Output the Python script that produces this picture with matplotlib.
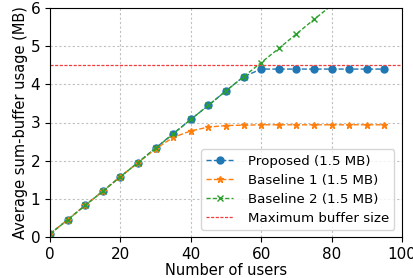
import matplotlib
matplotlib.use("Agg")
import matplotlib.pyplot as plt

users = [0, 5, 10, 15, 20, 25, 30, 35, 40, 45, 50, 55, 60, 65, 70, 75, 80, 85, 90, 95]
proposed = [0.08, 0.45, 0.83, 1.20, 1.58, 1.95, 2.33, 2.71, 3.08, 3.45, 3.83, 4.20, 4.40, 4.40, 4.40, 4.40, 4.40, 4.40, 4.40, 4.40]
baseline1 = [0.08, 0.45, 0.83, 1.20, 1.58, 1.95, 2.31, 2.61, 2.78, 2.88, 2.92, 2.93, 2.94, 2.94, 2.94, 2.94, 2.94, 2.94, 2.94, 2.94]
baseline2 = [0.08, 0.45, 0.83, 1.20, 1.58, 1.95, 2.33, 2.70, 3.08, 3.45, 3.83, 4.20, 4.57, 4.94, 5.32, 5.70, 6.07, 6.44, 6.82, 7.19]
max_buffer = 4.5

fig = plt.figure(figsize=(4.14, 2.78), dpi=100)
ax = fig.add_axes([50/414, 1-237/278, 352/414, 229/278])

ax.plot(users, proposed, '--o', color='#1f77b4', markersize=5, linewidth=1, label='Proposed (1.5 MB)')
ax.plot(users, baseline1, '--*', color='#ff7f0e', markersize=5, linewidth=1, label='Baseline 1 (1.5 MB)')
ax.plot(users, baseline2, '--x', color='#2ca02c', markersize=5, linewidth=1, dashes=(3, 1.5), label='Baseline 2 (1.5 MB)')
ax.axhline(max_buffer, color='#f03c3c', linestyle='--', dashes=(2.5, 1.2), linewidth=0.9, label='Maximum buffer size')

ax.set_xlim(0, 100)
ax.set_ylim(0, 6)
ax.set_xticks([0, 20, 40, 60, 80, 100])
ax.set_yticks([0, 1, 2, 3, 4, 5, 6])
ax.grid(True, linestyle=(0, (2, 2)), color='#c0c0c0', linewidth=0.8)
ax.tick_params(labelsize=11)
ax.set_xlabel('Number of users', fontsize=10.5, labelpad=1)
ax.set_ylabel('Average sum-buffer usage (MB)', fontsize=10.5, labelpad=2)
ax.legend(loc='lower right', fontsize=9.6, bbox_to_anchor=(0.978, 0.03), borderaxespad=0,
          handletextpad=1.1, labelspacing=0.45)

fig.savefig('out.png', dpi=100)
